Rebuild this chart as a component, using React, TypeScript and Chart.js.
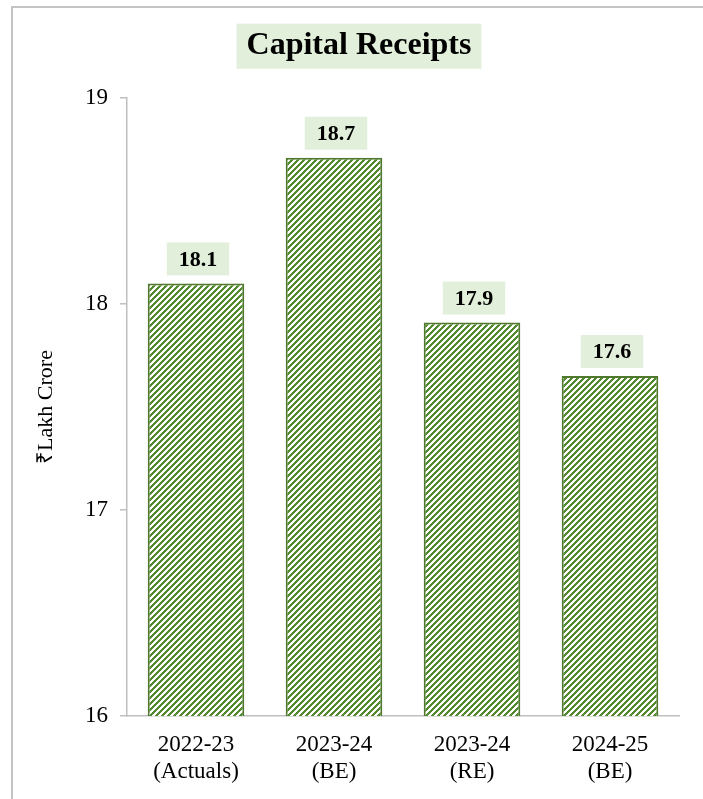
import React, { useEffect, useRef } from 'react';
import { Chart, registerables } from 'chart.js';

Chart.register(...registerables);

const categories: string[][] = [
  ['2022-23', '(Actuals)'],
  ['2023-24', '(BE)'],
  ['2023-24', '(RE)'],
  ['2024-25', '(BE)'],
];
const values: number[] = [18.1, 18.71, 17.91, 17.65];
const valueLabels: string[] = ['18.1', '18.7', '17.9', '17.6'];
const yMin = 16;
const yMax = 19;
const yStep = 1;
const titleText = 'Capital Receipts';
const yAxisTitle = '₹Lakh Crore';

const SERIF = '"Liberation Serif", "Times New Roman", Times, serif';
const GREEN = '#538a30';
const BORDER_GREEN = '#4f7a2e';
const LIGHT_GREEN = '#e2efda';
const AXIS_GRAY = '#bfbfbf';

function makeHatch(): CanvasPattern | string {
  const size = 6;
  const c = document.createElement('canvas');
  c.width = size;
  c.height = size;
  const ctx = c.getContext('2d');
  if (!ctx) return GREEN;
  ctx.fillStyle = '#ffffff';
  ctx.fillRect(0, 0, size, size);
  ctx.fillStyle = GREEN;
  for (let x = 0; x < size; x++) {
    for (let y = 0; y < size; y++) {
      if ((x + y) % size < 3) ctx.fillRect(x, y, 1, 1);
    }
  }
  const p = ctx.createPattern(c, 'repeat');
  return p || GREEN;
}

const framePlugin = {
  id: 'frame',
  beforeDraw(chart: any) {
    const ctx = chart.ctx;
    ctx.save();
    ctx.fillStyle = '#ffffff';
    ctx.fillRect(0, 0, chart.width, chart.height);
    ctx.strokeStyle = '#c4c4c4';
    ctx.lineWidth = 2;
    ctx.beginPath();
    ctx.moveTo(12, chart.height);
    ctx.lineTo(12, 7);
    ctx.lineTo(chart.width, 7);
    ctx.stroke();
    const tb = chart.titleBlock;
    if (tb) {
      ctx.font = `bold 32px ${SERIF}`;
      const w = ctx.measureText(titleText).width + 20;
      const cx = (tb.left + tb.right) / 2;
      const cy = tb.top + 27 + (32 * 1.2) / 2;
      ctx.fillStyle = LIGHT_GREEN;
      ctx.fillRect(cx - w / 2, cy - 22.5, w, 45);
    }
    ctx.restore();
  },
};

const valueBoxPlugin = {
  id: 'valueBoxes',
  afterDatasetsDraw(chart: any) {
    const ctx = chart.ctx;
    const meta = chart.getDatasetMeta(0);
    ctx.save();
    ctx.font = `bold 22px ${SERIF}`;
    ctx.textAlign = 'center';
    ctx.textBaseline = 'middle';
    meta.data.forEach((bar: any, i: number) => {
      const text = valueLabels[i];
      const w = ctx.measureText(text).width + 24;
      const h = 33;
      const bottom = bar.y - 8;
      const cx = bar.x + 2;
      ctx.fillStyle = LIGHT_GREEN;
      ctx.fillRect(cx - w / 2, bottom - h, w, h);
      ctx.fillStyle = '#000000';
      ctx.fillText(text, cx, bottom - h / 2 + 1);
    });
    ctx.restore();
  },
};

export default function App() {
  const canvasRef = useRef<HTMLCanvasElement | null>(null);

  useEffect(() => {
    if (!canvasRef.current) return;
    const hatch = makeHatch();
    const chart = new Chart(canvasRef.current, {
      type: 'bar',
      data: {
        labels: categories,
        datasets: [
          {
            label: titleText,
            data: values,
            backgroundColor: hatch as any,
            borderColor: BORDER_GREEN,
            borderWidth: 2,
            borderSkipped: false,
            barPercentage: 0.7,
            categoryPercentage: 1,
          },
        ],
      },
      options: {
        animation: false,
        responsive: true,
        maintainAspectRatio: false,
        layout: { padding: { left: 39, right: 24, top: 0, bottom: 13 } },
        plugins: {
          legend: { display: false },
          tooltip: { enabled: false },
          title: {
            display: true,
            text: titleText,
            color: '#000000',
            font: { family: SERIF, size: 32, weight: 'bold', lineHeight: 1.2 },
            padding: { top: 27, bottom: 32.6 },
          },
        },
        scales: {
          x: {
            afterFit: (scale: any) => {
              scale.height = 70;
            },
            grid: { display: false, drawTicks: false },
            border: { display: true, color: AXIS_GRAY, width: 1.5 },
            ticks: {
              color: '#000000',
              font: { family: SERIF, size: 23, lineHeight: 1.2 },
              padding: 15,
              maxRotation: 0,
              autoSkip: false,
            },
          },
          y: {
            min: yMin,
            max: yMax,
            afterFit: (scale: any) => {
              scale.width = 88;
            },
            grid: {
              display: true,
              drawOnChartArea: false,
              drawTicks: true,
              tickLength: 7,
              color: AXIS_GRAY,
              lineWidth: 1.5,
            },
            border: { display: true, color: AXIS_GRAY, width: 1.5 },
            ticks: {
              stepSize: yStep,
              color: '#000000',
              font: { family: SERIF, size: 23 },
              padding: 12,
            },
            title: {
              display: true,
              text: yAxisTitle,
              color: '#000000',
              font: { family: SERIF, size: 22, lineHeight: 1.2 },
              padding: { top: -6, bottom: 0 },
            },
          },
        },
      },
      plugins: [framePlugin, valueBoxPlugin],
    });
    return () => chart.destroy();
  }, []);

  return (
    <div style={{ position: 'absolute', left: 0, top: 0, width: 703, height: 799 }}>
      <canvas ref={canvasRef} />
    </div>
  );
}
